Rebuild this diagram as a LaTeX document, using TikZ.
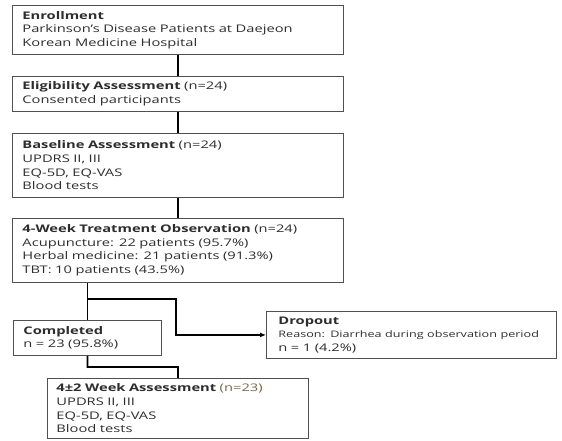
\documentclass[tikz,border=0pt]{standalone}
\usepackage{fontspec}
\setmainfont{Open Sans}[FakeStretch=1.4]
\usetikzlibrary{arrows.meta}

\definecolor{boxgray}{RGB}{80,80,80}
\definecolor{txtgray}{RGB}{45,45,45}
\definecolor{nolive}{RGB}{115,105,70}

\tikzset{
  box/.style={draw=boxgray, line width=0.9pt, anchor=north west, align=left,
    inner xsep=10pt, inner ysep=3pt, text=txtgray,
    font=\fontsize{10.5}{13.6}\selectfont},
  link/.style={line width=1.6pt},
}

\begin{document}
\begin{tikzpicture}[x=1pt, y=-1pt]
    \useasboundingbox (0, 0) rectangle (562, 441);

    \node [box, text width=311pt, minimum height=49pt] (enroll) at (12, 5)
        {\textbf{Enrollment}\\Parkinson's Disease\ Patients at Daejeon\\Korean Medicine Hospital};
    \node [box, text width=311pt, minimum height=35pt] (elig) at (12, 76)
        {\textbf{Eligibility Assessment} (n=24)\\Consented participants};
    \node [box, text width=311pt, minimum height=64pt] (base) at (12, 133)
        {\textbf{Baseline Assessment} (n=24)\\UPDRS II, III\\EQ-5D, EQ-VAS\\Blood tests};
    \node [box, text width=311pt, minimum height=64pt] (treat) at (12, 218)
        {\textbf{4-Week Treatment Observation} (n=24)\\Acupuncture: 22 patients (95.7\%)\\Herbal medicine: 21 patients (91.3\%)\\TBT: 10 patients (43.5\%)};
    \node [box, text width=128pt, minimum height=35pt] (comp) at (13, 320)
        {\textbf{Completed}\\n = 23 (95.8\%)};
    \node [box, inner xsep=12pt, text width=266pt, minimum height=47pt] (drop) at (266, 311)
        {\textbf{Dropout}\\{\fontsize{9}{11}\selectfont Reason: Diarrhea during observation period}\\n = 1 (4.2\%)};
    \node [box, inner xsep=9pt, text width=243pt, minimum height=60pt] (week) at (47, 378)
        {\textbf{4\textpm2 Week Assessment} {\color{nolive}(n=23)}\\UPDRS II, III\\EQ-5D, EQ-VAS\\Blood tests};

    % main column
    \draw [link] (enroll.south) -- (elig.north);
    \draw [link] (elig.south) -- (base.north);
    \draw [link] (base.south) -- (treat.north);

    % split after treatment
    \draw [link] (comp.north |- treat.south) -- (comp.north);
    \coordinate (split) at (87.5, 299);
    \coordinate (bend) at (176, 299);
    \draw [link, -{Latex[length=6pt, width=5pt]}] (split) -- (bend) |- (drop.west);

    % completed to follow-up
    \coordinate (join) at (87.5, 367);
    \draw [link] (comp.south) -- (join) -| (week.north);
\end{tikzpicture}
\end{document}
